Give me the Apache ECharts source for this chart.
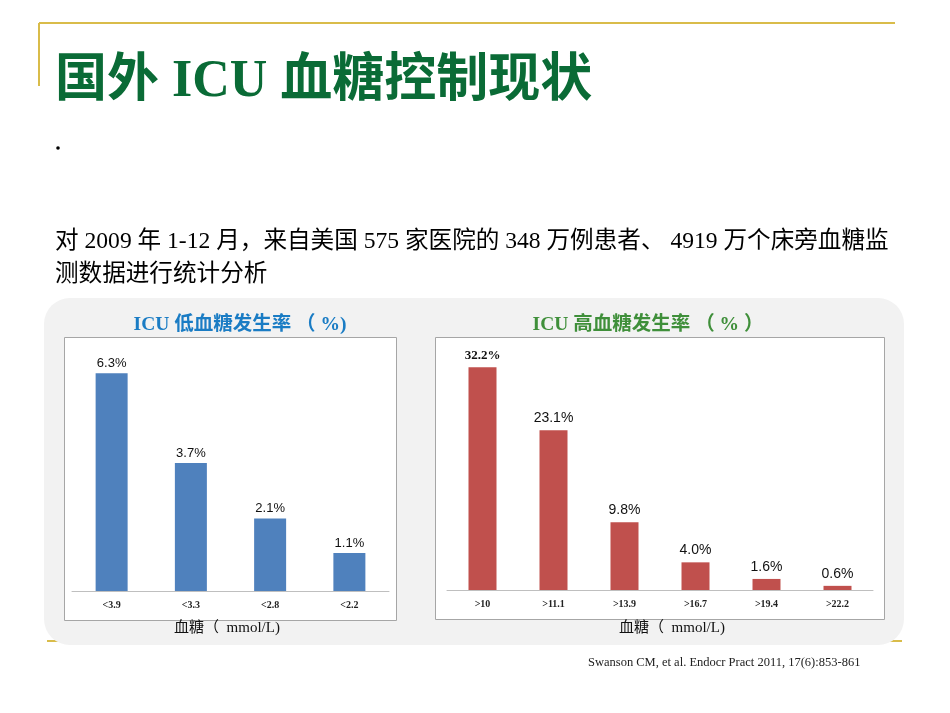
<!DOCTYPE html>
<html>
<head>
<meta charset="utf-8">
<script src="https://cdn.jsdelivr.net/npm/echarts@6/dist/echarts.min.js"></script>
<style>
  html, body { margin: 0; padding: 0; background: #fff; }
  #main { width: 950px; height: 713px; }
</style>
</head>
<body>
<div id="main"></div>
<script>
// low glucose chart
const lowCats = ['<3.9', '<3.3', '<2.8', '<2.2'];
const lowVals = [6.3, 3.7, 2.1, 1.1];
// high glucose chart
const highCats = ['>10', '>11.1', '>13.9', '>16.7', '>19.4', '>22.2'];
const highVals = [32.2, 23.1, 9.8, 4.0, 1.6, 0.6];

const mixFont = '"Liberation Serif", "Noto Sans CJK SC", serif';
const cjkFont = '"Liberation Serif", "Noto Sans CJK SC", sans-serif';
const gold = '#d9bc4a';

const myChart = echarts.init(document.getElementById('main'));

function catAxis(gridIndex, cats) {
  return {
    type: 'category',
    gridIndex: gridIndex,
    data: cats,
    axisLine: { lineStyle: { color: '#bfbfbf', width: 1 } },
    axisTick: { show: false },
    axisLabel: {
      color: '#222',
      fontSize: 10,
      fontFamily: '"Liberation Serif", serif',
      fontWeight: 'bold',
      margin: 9
    }
  };
}

function valAxis(gridIndex, max) {
  return {
    type: 'value',
    gridIndex: gridIndex,
    min: 0,
    max: max,
    show: false,
    splitLine: { show: false }
  };
}

const option = {
  animation: false,
  backgroundColor: '#fff',
  grid: [
    { left: 72, right: 561, top: 349, bottom: 122 },
    { left: 447, right: 77, top: 348, bottom: 123 }
  ],
  xAxis: [catAxis(0, lowCats), catAxis(1, highCats)],
  yAxis: [valAxis(0, 7), valAxis(1, 35)],
  series: [
    {
      type: 'bar',
      xAxisIndex: 0,
      yAxisIndex: 0,
      data: lowVals,
      barWidth: 32,
      itemStyle: { color: '#4f81bd' },
      label: {
        show: true,
        position: 'top',
        distance: 3,
        formatter: (p) => p.value.toFixed(1) + '%',
        color: '#111',
        fontSize: 13,
        fontFamily: '"Liberation Sans Narrow", "Liberation Sans", sans-serif'
      },
      z: 3
    },
    {
      type: 'bar',
      xAxisIndex: 1,
      yAxisIndex: 1,
      data: highVals.map((v, i) => i === 0
        ? { value: v, label: { fontFamily: '"Liberation Serif", serif', fontWeight: 'bold', fontSize: 13 } }
        : v),
      barWidth: 28,
      itemStyle: { color: '#c0504d' },
      label: {
        show: true,
        position: 'top',
        distance: 5,
        formatter: (p) => p.value.toFixed(1) + '%',
        color: '#111',
        fontSize: 14,
        fontFamily: '"Liberation Sans", sans-serif'
      },
      z: 3
    }
  ],
  graphic: [
    // gold frame lines
    { type: 'line', shape: { x1: 39, y1: 23, x2: 895, y2: 23 }, style: { stroke: gold, lineWidth: 2 }, z: -20 },
    { type: 'line', shape: { x1: 39, y1: 23, x2: 39, y2: 86 }, style: { stroke: gold, lineWidth: 2 }, z: -20 },
    { type: 'line', shape: { x1: 47, y1: 641, x2: 902, y2: 641 }, style: { stroke: gold, lineWidth: 2 }, z: -20 },
    // title
    {
      type: 'text', left: 55, top: 57, z: 10,
      style: { text: '国外 ICU 血糖控制现状', fill: '#0a6b36', font: 'bold 52px ' + mixFont }
    },
    // bullet
    { type: 'circle', shape: { cx: 58, cy: 148, r: 1.8 }, style: { fill: '#000' } },
    // body text
    {
      type: 'text', left: 55, top: 225, z: 10,
      style: {
        text: '对 2009 年 1-12 月，来自美国 575 家医院的 348 万例患者、 4919 万个床旁血糖监\n测数据进行统计分析',
        fill: '#000', font: '23.6px ' + cjkFont, lineHeight: 33
      }
    },
    // gray panel
    {
      type: 'rect', z: -10,
      shape: { x: 44, y: 298, width: 860, height: 347, r: 26 },
      style: { fill: '#f2f2f2' }
    },
    // chart boxes
    {
      type: 'rect', z: -5,
      shape: { x: 64.5, y: 337.5, width: 332, height: 283 },
      style: { fill: '#fff', stroke: '#a6a6a6', lineWidth: 1 }
    },
    {
      type: 'rect', z: -5,
      shape: { x: 435.5, y: 337.5, width: 449, height: 282 },
      style: { fill: '#fff', stroke: '#a6a6a6', lineWidth: 1 }
    },
    // chart titles
    {
      type: 'text', x: 240, y: 325, z: 10,
      style: {
        text: 'ICU 低血糖发生率 （ %)', fill: '#1a7cc4',
        font: 'bold 19.5px ' + mixFont, align: 'center', verticalAlign: 'middle'
      }
    },
    {
      type: 'text', x: 648, y: 325, z: 10,
      style: {
        text: 'ICU 高血糖发生率 （ % ）', fill: '#3f8f3a',
        font: 'bold 19.5px ' + mixFont, align: 'center', verticalAlign: 'middle'
      }
    },
    // axis names
    {
      type: 'text', x: 227, y: 628, z: 10,
      style: {
        text: '血糖（  mmol/L)', fill: '#111',
        font: '15px ' + mixFont, align: 'center', verticalAlign: 'middle'
      }
    },
    {
      type: 'text', x: 672, y: 628, z: 10,
      style: {
        text: '血糖（  mmol/L)', fill: '#111',
        font: '15px ' + mixFont, align: 'center', verticalAlign: 'middle'
      }
    },
    // citation
    {
      type: 'text', x: 588, y: 663, z: 10,
      style: {
        text: 'Swanson CM, et al. Endocr Pract 2011, 17(6):853-861', fill: '#222',
        font: '12.5px "Liberation Serif", serif', align: 'left', verticalAlign: 'middle'
      }
    }
  ]
};

myChart.setOption(option);
</script>
</body>
</html>
